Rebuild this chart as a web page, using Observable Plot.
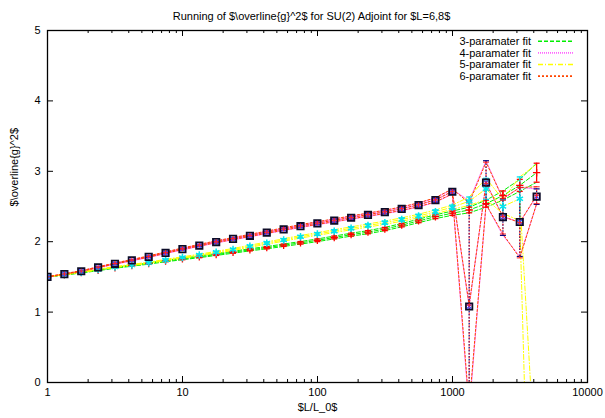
<!DOCTYPE html>
<html><head><meta charset="utf-8">
<script src="https://cdn.jsdelivr.net/npm/d3@7"></script>
<script src="https://cdn.jsdelivr.net/npm/@observablehq/plot@0.6"></script>
<style>
html,body{margin:0;padding:0;background:#fff;}
#wrap{position:relative;width:605px;height:418px;}
#wrap svg{font-family:"Liberation Sans",Arial,sans-serif;}
#legend{position:absolute;left:0;top:0;pointer-events:none;}
</style></head><body><div id="wrap"></div>
<script>
// L/L_0 values of the data points
const LL0 = [1, 1.3333, 1.7778, 2.3704, 3.1605, 4.2140, 5.6187, 7.4915, 9.9887, 13.318,
  17.758, 23.677, 31.569, 42.092, 56.123, 74.831, 99.775, 133.03, 177.38, 236.51,
  315.34, 420.45, 560.60, 747.47, 996.62, 1328.8, 1771.8, 2362.4, 3149.8, 4199.8];

// 3-paramater fit
const fit3 = [1.50,1.53,1.56,1.595,1.63,1.66,1.69,1.725,1.755,1.785,1.818,1.85,1.885,1.915,1.95,
  1.984,2.02,2.06,2.10,2.135,2.18,2.235,2.295,2.355,2.405,2.45,2.54,2.656,2.80,2.98];
const err3 = [0.003,0.004,0.005,0.006,0.007,0.008,0.009,0.010,0.011,0.012,0.013,0.014,0.015,0.016,0.017,
  0.018,0.019,0.020,0.021,0.022,0.023,0.024,0.025,0.027,0.030,0.040,0.050,0.065,0.085,0.135];
// 4-paramater fit
const fit4 = [1.50,1.54,1.58,1.635,1.686,1.735,1.785,1.84,1.895,1.945,1.995,2.04,2.084,2.13,2.175,
  2.22,2.26,2.30,2.34,2.38,2.42,2.465,2.52,2.59,2.71,1.08,2.84,2.35,2.28,2.64];
const err4 = [0.003,0.004,0.005,0.006,0.007,0.008,0.009,0.010,0.011,0.012,0.013,0.014,0.015,0.016,0.017,
  0.018,0.019,0.020,0.021,0.022,0.023,0.025,0.027,0.030,0.035,1.50,0.31,0.26,0.49,0.11];
// 5-paramater fit
const fit5 = [1.50,1.535,1.565,1.605,1.64,1.67,1.70,1.74,1.775,1.81,1.85,1.89,1.935,1.98,2.025,
  2.07,2.11,2.15,2.19,2.23,2.27,2.315,2.365,2.425,2.49,2.575,2.75,2.50,2.61,-1.5];
const err5 = [0.003,0.004,0.005,0.006,0.007,0.008,0.009,0.010,0.011,0.012,0.013,0.014,0.015,0.016,0.017,
  0.018,0.019,0.020,0.021,0.022,0.023,0.024,0.025,0.027,0.030,0.060,0.150,0.100,0.310,4.60];
// 6-paramater fit
const fit6 = [1.50,1.542,1.583,1.638,1.69,1.74,1.79,1.845,1.90,1.95,2.0,2.045,2.09,2.135,2.18,
  2.225,2.265,2.305,2.345,2.385,2.425,2.47,2.525,2.595,2.715,1.10,2.83,2.36,2.27,2.66];
const err6 = [0.003,0.004,0.005,0.006,0.007,0.008,0.009,0.010,0.011,0.012,0.013,0.014,0.015,0.016,0.017,
  0.018,0.019,0.020,0.021,0.022,0.023,0.025,0.027,0.030,0.035,1.45,0.30,0.25,0.50,0.12];

const fitNames = ["3-paramater fit", "4-paramater fit", "5-paramater fit", "6-paramater fit"];
const fitColors = ["#00ee00", "#ff66ff", "#ffff00", "#ff4500"];
const fitDash = ["4,2", "1,1", "5,2,1,2", "2,2"];

const xMajor = [1, 10, 100, 1000, 10000];
const xMinor = [2,3,4,5,6,7,8,9,20,30,40,50,60,70,80,90,200,300,400,500,600,700,800,900,2000,3000,4000,5000,6000,7000,8000,9000];
const yMajor = [0, 1, 2, 3, 4, 5];

const title = "Running of $\\overline{g}^2$ for SU(2) Adjoint for $L=6,8$";
const xLabel = "$L/L_0$";
const yLabel = "$\\overline{g}^2$";

const mk = (vals, errs) => LL0.map((x, i) => ({x, y: vals[i], e: errs[i]}));
const sets = [mk(fit3, err3), mk(fit4, err4), mk(fit5, err5), mk(fit6, err6)];
const inRange = d => d.filter(r => r.y >= 0 && r.y <= 5);

const cap = {draw(ctx, size) { const w = Math.sqrt(size / Math.PI); ctx.moveTo(-w, 0); ctx.lineTo(w, 0); }};

const FH = 352, FW = 540;
const marks = [];
// fit lines: central, upper, lower
sets.forEach((d, k) => {
  for (const s of [0, 1, -1]) {
    marks.push(Plot.line(d, {x: "x", y: r => r.y + s * r.e, stroke: fitColors[k], strokeWidth: 1,
      strokeDasharray: fitDash[k], clip: true}));
  }
});
// error bars (drawn only for points inside the plotted range)
function errbars(d, color, dash, w) {
  d = inRange(d);
  marks.push(Plot.ruleX(d, {x: "x", y1: r => r.y - r.e, y2: r => r.y + r.e, stroke: color, strokeWidth: w, strokeDasharray: dash, clip: true}));
  marks.push(Plot.dot(d, {x: "x", y: r => r.y + r.e, symbol: cap, r: 3, stroke: color, strokeWidth: w, clip: true}));
  marks.push(Plot.dot(d, {x: "x", y: r => r.y - r.e, symbol: cap, r: 3, stroke: color, strokeWidth: w, clip: true}));
}
errbars(sets[0], "#ff0000", null, 1.3);
errbars(sets[2], "#00e5ee", null, 1.3);
errbars(sets[1], "#000080", "1.5,1.5", 1.2);
errbars(sets[3], "#ff2020", "2,2", 1);
// points
marks.push(Plot.dot(sets[0], {x: "x", y: "y", symbol: "plus", r: 2.5, stroke: "#ff0000", strokeWidth: 1.3, clip: true}));
marks.push(Plot.dot(sets[2], {x: "x", y: "y", symbol: "asterisk", r: 3.5, stroke: "#00e5ee", strokeWidth: 1.5, clip: true}));
marks.push(Plot.dot(sets[1], {x: "x", y: "y", symbol: "square", r: 3.6, fill: "none", stroke: "#0c0c28", strokeWidth: 1.8, clip: true}));
marks.push(Plot.dot(sets[1], {x: "x", y: "y", symbol: "times", r: 2, stroke: "#3a3aff", strokeWidth: 1.2, clip: true}));
marks.push(Plot.dot(sets[3], {x: "x", y: "y", symbol: "plus", r: 1.6, stroke: "#ff2020", strokeWidth: 1, clip: true}));
// ticks (inward, mirrored)
marks.push(Plot.ruleX(xMajor, {x: d => d, insetTop: FH - 6, stroke: "black"}));
marks.push(Plot.ruleX(xMajor, {x: d => d, insetBottom: FH - 6, stroke: "black"}));
marks.push(Plot.ruleX(xMinor, {x: d => d, insetTop: FH - 3, stroke: "black"}));
marks.push(Plot.ruleX(xMinor, {x: d => d, insetBottom: FH - 3, stroke: "black"}));
marks.push(Plot.ruleY(yMajor, {y: d => d, insetRight: FW - 6, stroke: "black"}));
marks.push(Plot.ruleY(yMajor, {y: d => d, insetLeft: FW - 6, stroke: "black"}));
marks.push(Plot.frame({stroke: "black", strokeWidth: 1.3}));
// tick labels
marks.push(Plot.text(xMajor, {x: d => d, text: d => String(d), frameAnchor: "bottom", dy: 13, fill: "black", fontSize: 11}));
marks.push(Plot.text(yMajor, {y: d => d, text: d => String(d), frameAnchor: "left", dx: -7, textAnchor: "end", fill: "black", fontSize: 11}));
// titles
marks.push(Plot.text([title], {text: d => d, frameAnchor: "top", dy: -18, dx: -6, fill: "black", fontSize: 11}));
marks.push(Plot.text([xLabel], {text: d => d, frameAnchor: "bottom", dy: 28, fill: "black", fontSize: 11}));
marks.push(Plot.text([yLabel], {text: d => d, frameAnchor: "left", dx: -33, rotate: -90, fill: "black", fontSize: 11}));

const chart = Plot.plot({
  width: 605, height: 418,
  marginTop: 30, marginBottom: 36, marginLeft: 47, marginRight: 18,
  x: {type: "log", domain: [1, 10000], axis: null},
  y: {domain: [0, 5], axis: null},
  style: {background: "white", fontFamily: "'Liberation Sans', Arial, sans-serif", fontSize: "11px", overflow: "visible"},
  marks
});
document.getElementById("wrap").appendChild(chart);

// legend (top right, inside frame)
const lg = d3.select("#wrap").append("svg").attr("id", "legend").attr("width", 605).attr("height", 418);
fitNames.forEach((name, i) => {
  const y = 41.3 + i * 11.6;
  lg.append("text").attr("x", 531).attr("y", y).attr("dy", "0.35em").attr("text-anchor", "end")
    .attr("font-size", 11).attr("fill", "black").text(name);
  lg.append("line").attr("x1", 538).attr("x2", 573).attr("y1", y).attr("y2", y)
    .style("stroke", fitColors[i]).style("stroke-width", 1.6).style("stroke-dasharray", fitDash[i]);
});
</script></body></html>
